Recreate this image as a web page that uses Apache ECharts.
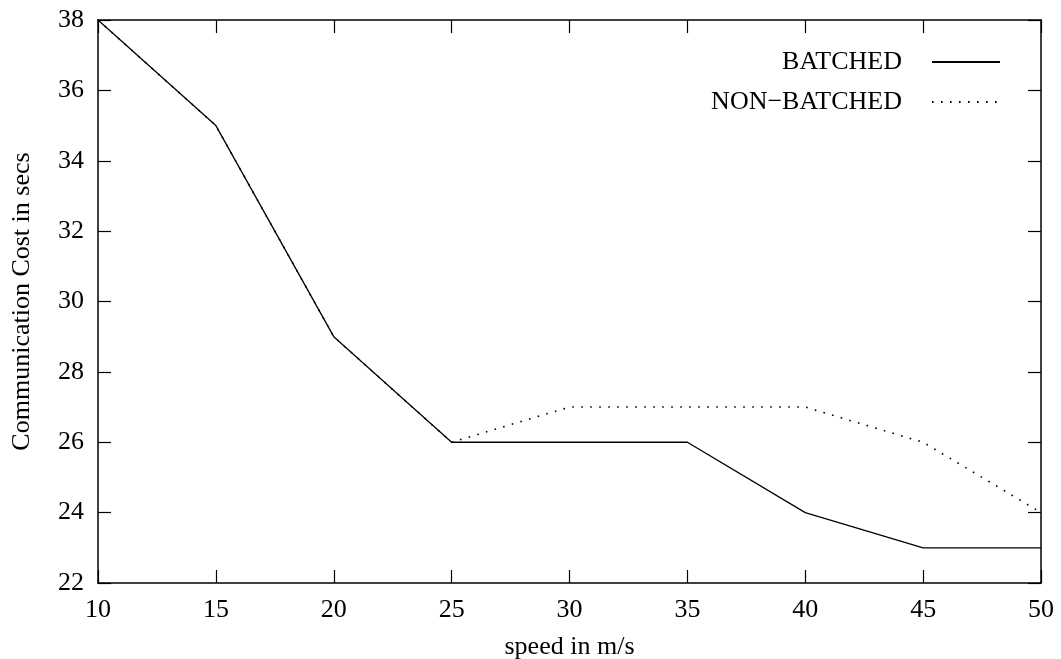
<!DOCTYPE html>
<html>
<head>
<meta charset="utf-8">
<title>Communication Cost vs Speed</title>
<script src="https://cdn.jsdelivr.net/npm/echarts@6/dist/echarts.min.js"></script>
<style>
  html, body { margin: 0; padding: 0; background: #fff; }
  #chart { width: 1061px; height: 659px; }
</style>
</head>
<body>
<div id="chart"></div>
<script>
// Speeds (m/s) on the x axis
const speeds = [10, 15, 20, 25, 30, 35, 40, 45, 50];
// Communication cost (secs) per scheme
const batched = [38, 35, 29, 26, 26, 26, 24, 23, 23];
const nonBatched = [38, 35, 29, 26, 27, 27, 27, 26, 24];

const FONT = '"Liberation Serif", "DejaVu Serif", serif';
const FS = 26;
const ink = '#000';

function pairs(xs, ys) { return xs.map((x, i) => [x, ys[i]]); }

const tickCommon = { show: true, inside: true, length: 13, lineStyle: { color: ink, width: 1.2 } };
const lineCommon = { show: true, onZero: false, lineStyle: { color: ink, width: 1.5 } };

const chart = echarts.init(document.getElementById('chart'));
chart.setOption({
  animation: false,
  backgroundColor: '#fff',
  grid: { left: 98, right: 20, top: 20, bottom: 76, containLabel: false, outerBoundsMode: 'none' },
  legend: {
    orient: 'vertical',
    right: 60,
    top: 49,
    padding: 0,
    align: 'right',
    itemWidth: 68,
    itemHeight: 14,
    itemGap: 14,
    itemStyle: { opacity: 0 },
    textStyle: { fontFamily: FONT, fontSize: FS, color: ink, padding: [0, 25, 0, 0] },
    data: ['BATCHED', 'NON\u2212BATCHED']
  },
  xAxis: [
    {
      type: 'value', min: 10, max: 50, interval: 5,
      name: 'speed in m/s', nameLocation: 'middle', nameGap: 51,
      nameTextStyle: { fontFamily: FONT, fontSize: FS, color: ink },
      axisLine: lineCommon, axisTick: tickCommon,
      axisLabel: { fontFamily: FONT, fontSize: FS, color: ink, margin: 14 },
      splitLine: { show: false }
    },
    {
      type: 'value', min: 10, max: 50, interval: 5, position: 'top',
      axisLine: lineCommon, axisTick: tickCommon,
      axisLabel: { show: false }, splitLine: { show: false }
    }
  ],
  yAxis: [
    {
      type: 'value', min: 22, max: 38, interval: 2,
      name: 'Communication Cost in secs', nameLocation: 'middle', nameGap: 63,
      nameTextStyle: { fontFamily: FONT, fontSize: FS, color: ink },
      axisLine: lineCommon, axisTick: tickCommon,
      axisLabel: { fontFamily: FONT, fontSize: FS, color: ink, margin: 14 },
      splitLine: { show: false }
    },
    {
      type: 'value', min: 22, max: 38, interval: 2, position: 'right',
      axisLine: lineCommon, axisTick: tickCommon,
      axisLabel: { show: false }, splitLine: { show: false }
    }
  ],
  series: [
    {
      name: 'NON\u2212BATCHED', type: 'line',
      data: pairs(speeds, nonBatched),
      showSymbol: false, symbol: 'none',
      lineStyle: { color: ink, width: 1.6, type: [1.6, 7.4] },
      itemStyle: { color: ink },
      z: 2
    },
    {
      name: 'BATCHED', type: 'line',
      data: pairs(speeds, batched),
      showSymbol: false, symbol: 'none',
      lineStyle: { color: ink, width: 1.3 },
      itemStyle: { color: ink },
      z: 3
    }
  ]
});
</script>
</body>
</html>
